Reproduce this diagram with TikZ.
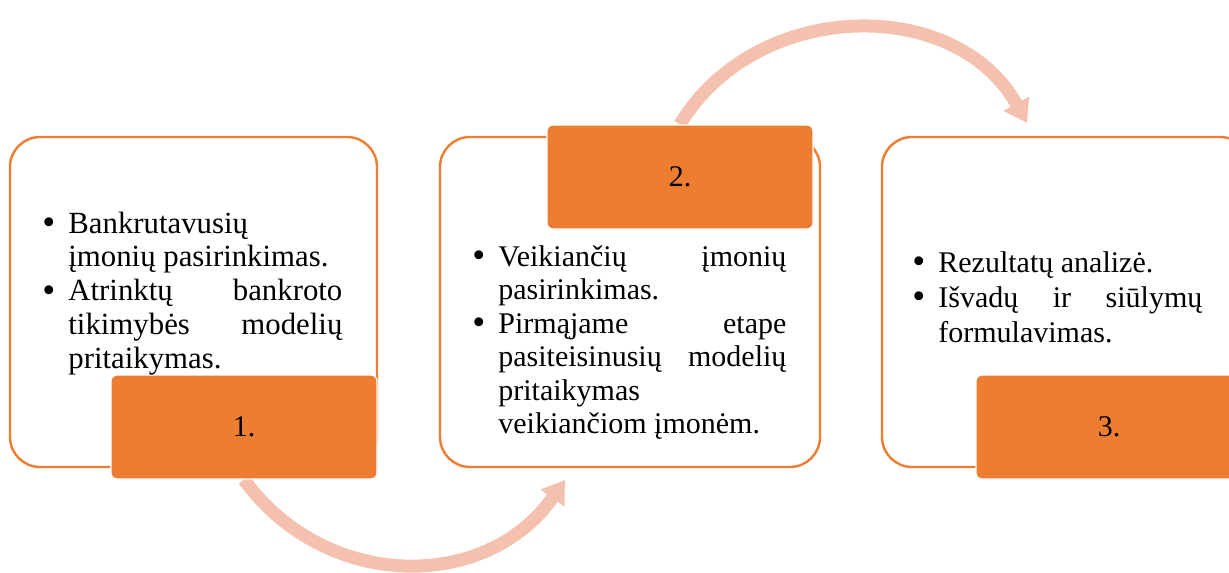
\documentclass[tikz,border=0pt]{standalone}
\usepackage{fontspec}
\setmainfont{Liberation Serif}
\usetikzlibrary{arrows.meta, backgrounds}
\definecolor{oranzine}{HTML}{ED7D31}
\definecolor{lasisine}{HTML}{F4C1AE}
\newcommand{\tsk}{\hspace*{-1.5pt}\smash{\raisebox{-0.8pt}{\fontsize{18.5pt}{18.5pt}\selectfont\textbullet}}}
\newcommand{\punktai}[2]{\begin{tabular}[t]{@{}p{11.5pt}@{}p{#1}@{}}#2\end{tabular}}

\begin{document}
\begin{tikzpicture}[x=0.5pt, y=0.5pt,
  kortele/.style={draw=oranzine, line width=1.2pt, fill=white, rounded corners=15pt, minimum height=165pt},
  etapas/.style={draw=white, line width=0.6pt, fill=oranzine, rounded corners=3pt, minimum width=133pt, minimum height=52pt, font=\fontsize{15pt}{16.75pt}\selectfont},
  tekstas/.style={anchor=base west, inner sep=0pt, font=\fontsize{15pt}{16.75pt}\selectfont},
  lankas/.style={-{Triangle[width=14pt, length=11pt]}, line width=6.5pt, draw=lasisine}
]
\useasboundingbox (0,0) rectangle (1229,-572);
\clip (0,0) rectangle (1229,-572);
% korteles
\node[kortele, minimum width=183.5pt] (k1) at (193.5,-302) {};
\node[kortele, minimum width=190pt] (k2) at (630,-302) {};
\node[kortele, minimum width=184pt] (k3) at (1066,-302) {};
% etapu numeriai
\node[etapas] (t1) at (244,-427) {1.};
\node[etapas] (t2) at (680,-177) {2.};
\node[etapas] (t3) at (1109,-427) {3.};
% tekstai
\node[tekstas, font=\fontsize{15.4pt}{16.9pt}\selectfont] (p1) at (45,-233) {\punktai{137pt}{%
  \tsk & Bankrutavusių\\
  & įmonių pasirinkimas.\\
  \tsk & Atrinktų \hfill bankroto\\
  & tikimybės \hfill modelių\\
  & pritaikymas.}};
\node[tekstas] (p2) at (475,-266) {\punktai{144pt}{%
  \tsk & Veikiančių \hfill įmonių\\
  & pasirinkimas.\\
  \tsk & Pirmąjame \hfill etape\\
  & pasiteisinusių \hfill modelių\\
  & pritaikymas\\
  & veikiančiom įmonėm.}};
\node[tekstas, font=\fontsize{15pt}{17.5pt}\selectfont] (p3) at (915,-272) {\punktai{132pt}{%
  \tsk & Rezultatų analizė.\\
  \tsk & Išvadų \hfill ir \hfill siūlymų\\
  & formulavimas.}};
% rodykles
\coordinate (g1) at (565,-480);
\coordinate (g2) at (1027,-123);
\begin{scope}[on background layer]
\draw[lankas] (t1.south) to[out=-54, in=-125, looseness=1.1] (g1);
\draw[lankas] (t2.north) to[out=59, in=119, looseness=1.08] (g2);
\end{scope}
\end{tikzpicture}
\end{document}
